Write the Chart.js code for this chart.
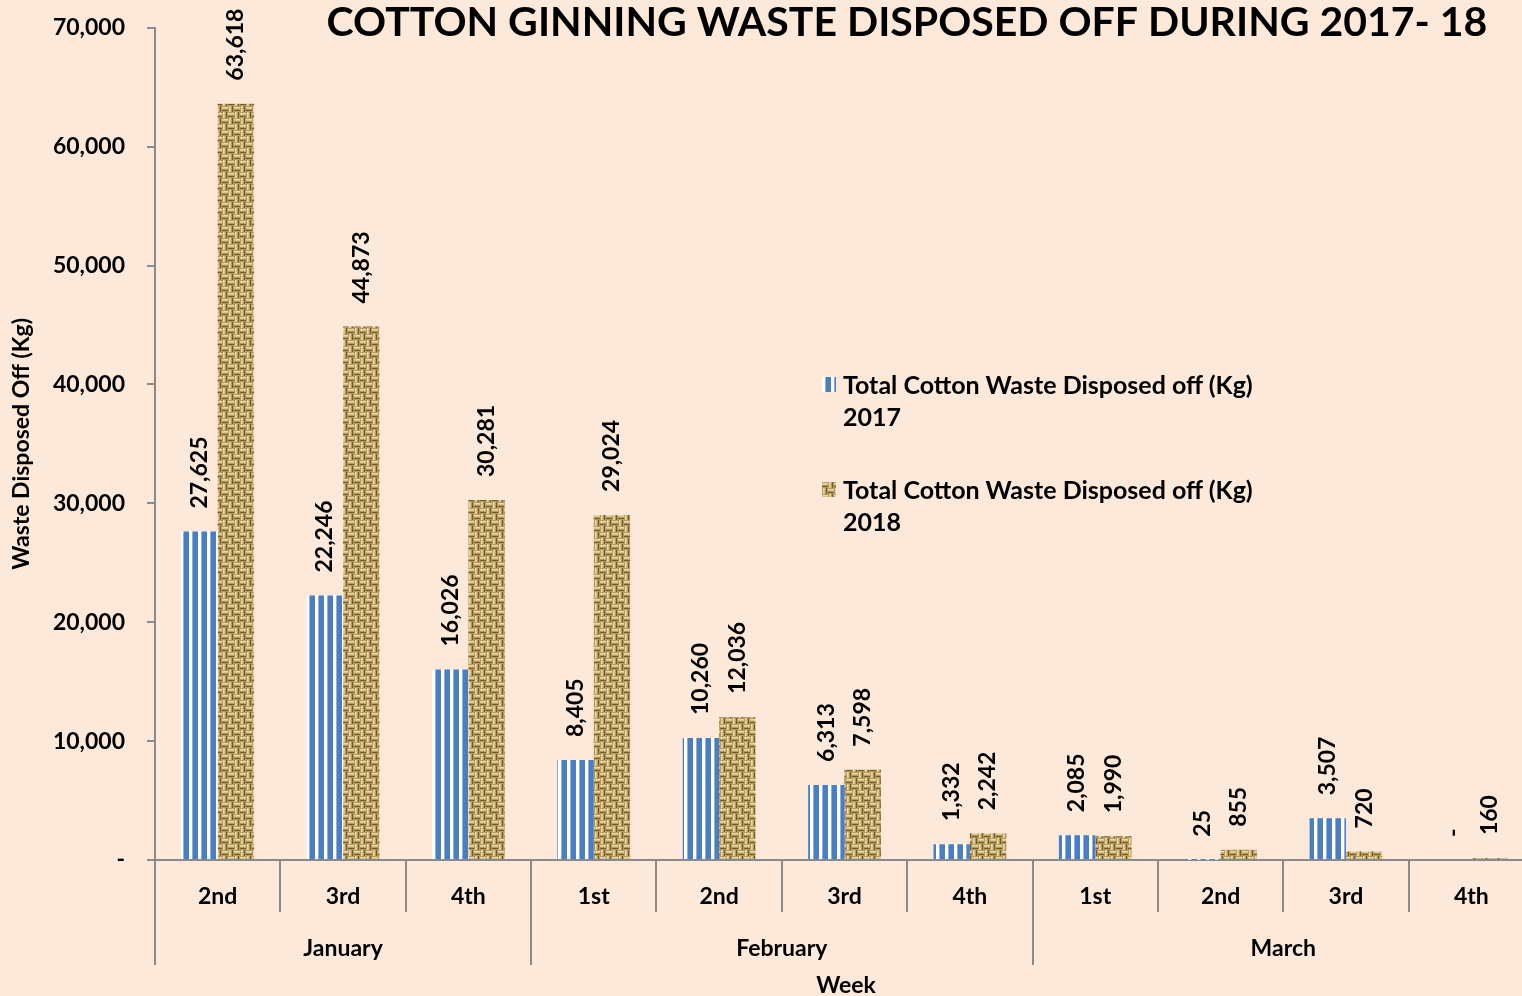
<!DOCTYPE html>
<html>
<head>
<meta charset="utf-8">
<script src="https://cdn.jsdelivr.net/npm/chart.js@4"></script>
<style>
  html, body { margin: 0; padding: 0; background: #FDE9D9; overflow: hidden; }
  #wrap { position: relative; width: 1522px; height: 996px; overflow: hidden; }
  #chart { display: block; position: absolute; left: 0; top: -8px; }
  #legend { position: absolute; left: 822px; top: 368px; font-family: Lato, sans-serif; font-weight: bold; font-size: 25px; color: #000; line-height: 32px; }
  .item { position: relative; padding-left: 21px; margin-bottom: 41px; }
  .sw { position: absolute; left: 0; top: 9px; width: 14px; height: 15px; }
</style>
</head>
<body>
<div id="wrap">
  <canvas id="chart" width="1534" height="1004"></canvas>
  <div id="legend">
    <div class="item"><canvas class="sw" id="sw0" width="14" height="15"></canvas>Total Cotton Waste Disposed off (Kg)<br>2017</div>
    <div class="item"><canvas class="sw" id="sw1" width="14" height="15"></canvas>Total Cotton Waste Disposed off (Kg)<br>2018</div>
  </div>
</div>
<script>
// data
const weeks = ['2nd', '3rd', '4th', '1st', '2nd', '3rd', '4th', '1st', '2nd', '3rd', '4th'];
const months = ['January', 'February', 'March'];
const monthStart = [0, 3, 7];
const monthEnd = [2, 6, 10];
const waste2017 = [27625, 22246, 16026, 8405, 10260, 6313, 1332, 2085, 25, 3507, 0];
const waste2018 = [63618, 44873, 30281, 29024, 12036, 7598, 2242, 1990, 855, 720, 160];
const yTicks = [0, 10000, 20000, 30000, 40000, 50000, 60000, 70000];

const FONT = 'Lato, sans-serif';
const AXIS = '#8a8a8a';

// blue / white vertical stripes
function stripePattern(ctx) {
    const c = document.createElement('canvas');
    c.width = 9; c.height = 9;
    const g = c.getContext('2d');
    g.fillStyle = '#ffffff';
    g.fillRect(0, 0, 9, 9);
    g.fillStyle = '#4a7ec0';
    g.fillRect(3, 0, 6, 9);
    g.fillStyle = '#8fb2dc';
    g.fillRect(3, 0, 1, 9);
    return ctx.createPattern(c, 'repeat');
}

// burlap-ish weave
function burlapPattern(ctx) {
    const c = document.createElement('canvas');
    c.width = 24; c.height = 24;
    const g = c.getContext('2d');
    g.fillStyle = '#b59b62';
    g.fillRect(0, 0, 24, 24);
    for (let i = 0; i < 4; i++) {
        for (let j = 0; j < 4; j++) {
            const x = i * 6, y = j * 6;
            if ((i + j) % 2 === 0) {
                g.fillStyle = '#ead8a2'; g.fillRect(x, y + 1, 6, 1);
                g.fillStyle = '#d9c188'; g.fillRect(x, y + 2, 6, 1);
                g.fillStyle = '#735b2e'; g.fillRect(x, y + 4, 6, 1);
            } else {
                g.fillStyle = '#ead8a2'; g.fillRect(x + 1, y, 1, 6);
                g.fillStyle = '#d9c188'; g.fillRect(x + 2, y, 1, 6);
                g.fillStyle = '#735b2e'; g.fillRect(x + 4, y, 1, 6);
            }
        }
    }
    return ctx.createPattern(c, 'repeat');
}

const fmt = v => v === 0 ? '-' : v.toLocaleString('en-US');

// rotated value labels above each bar
const valueLabels = {
    id: 'valueLabels',
    afterDatasetsDraw(chart) {
        const ctx = chart.ctx;
        ctx.save();
        ctx.font = 'bold 23px ' + FONT;
        ctx.fillStyle = '#000';
        ctx.textAlign = 'left';
        ctx.textBaseline = 'middle';
        chart.data.datasets.forEach((ds, di) => {
            chart.getDatasetMeta(di).data.forEach((bar, i) => {
                ctx.save();
                ctx.translate(bar.x, bar.y - 23);
                ctx.rotate(-Math.PI / 2);
                ctx.fillText(fmt(ds.data[i]), 0, 0);
                ctx.restore();
            });
        });
        ctx.restore();
    }
};

// title, month row, separators, axis title
const extras = {
    id: 'extras',
    afterDraw(chart) {
        const ctx = chart.ctx;
        const x = chart.scales.x;
        const bottom = chart.chartArea.bottom;
        const half = (x.getPixelForValue(1) - x.getPixelForValue(0)) / 2;
        const left = i => x.getPixelForValue(i) - half;
        const right = i => x.getPixelForValue(i) + half;
        ctx.save();
        ctx.strokeStyle = AXIS;
        ctx.lineWidth = 2;
        // week separators
        for (let i = 1; i < weeks.length; i++) {
            ctx.beginPath();
            ctx.moveTo(Math.round(left(i)), bottom);
            ctx.lineTo(Math.round(left(i)), bottom + 52);
            ctx.stroke();
        }
        // month separators
        const edges = [left(0)].concat(monthEnd.map(right));
        edges.forEach(px => {
            ctx.beginPath();
            ctx.moveTo(Math.round(px), bottom);
            ctx.lineTo(Math.round(px), bottom + 105);
            ctx.stroke();
        });
        ctx.fillStyle = '#000';
        ctx.textAlign = 'center';
        ctx.textBaseline = 'middle';
        ctx.font = 'bold 23px ' + FONT;
        months.forEach((m, k) => {
            ctx.fillText(m, (left(monthStart[k]) + right(monthEnd[k])) / 2, bottom + 89);
        });
        ctx.fillText('Week', 846, bottom + 126);
        ctx.font = 'bold 41px ' + FONT;
        ctx.fillText('COTTON GINNING WASTE DISPOSED OFF DURING 2017- 18', 907, chart.chartArea.top - 5);
        ctx.restore();
    }
};

const ctx = document.getElementById('chart').getContext('2d');
const stripes = stripePattern(ctx);
const burlap = burlapPattern(ctx);

new Chart(ctx, {
    type: 'bar',
    data: {
        labels: weeks,
        datasets: [
            { label: 'Total Cotton Waste Disposed off (Kg) 2017', data: waste2017, backgroundColor: stripes },
            { label: 'Total Cotton Waste Disposed off (Kg) 2018', data: waste2018, backgroundColor: burlap }
        ]
    },
    options: {
        responsive: false,
        animation: false,
        events: [],
        datasets: { bar: { categoryPercentage: 0.58, barPercentage: 1 } },
        layout: { padding: { top: 12, right: 0, left: 0, bottom: 0 } },
        plugins: {
            legend: { display: false },
            tooltip: { enabled: false }
        },
        scales: {
            x: {
                grid: { display: true, drawOnChartArea: false, drawTicks: false, color: AXIS },
                border: { color: AXIS, width: 2 },
                ticks: { color: '#000', font: { family: FONT, size: 23, weight: 'bold' }, padding: 23 },
                afterFit: s => { s.height = 136; }
            },
            y: {
                min: 0,
                max: 70000,
                afterBuildTicks: s => { s.ticks = yTicks.map(v => ({ value: v })); },
                grid: { drawOnChartArea: false, drawTicks: true, tickLength: 8, color: AXIS, lineWidth: 2 },
                border: { color: AXIS, width: 2 },
                ticks: { color: '#000', padding: 22, font: { family: FONT, size: 23, weight: 'bold' }, callback: v => fmt(v) },
                title: { display: true, text: 'Waste Disposed Off (Kg)', color: '#000', padding: { top: 8, bottom: 0 }, font: { family: FONT, size: 23, weight: 'bold' } },
                afterFit: s => { s.width = 155; }
            }
        }
    },
    plugins: [valueLabels, extras]
});

// legend swatches
[stripePattern, burlapPattern].forEach((fn, i) => {
    const c = document.getElementById('sw' + i).getContext('2d');
    c.fillStyle = fn(c);
    c.fillRect(0, 0, 14, 15);
});
</script>
</body>
</html>
